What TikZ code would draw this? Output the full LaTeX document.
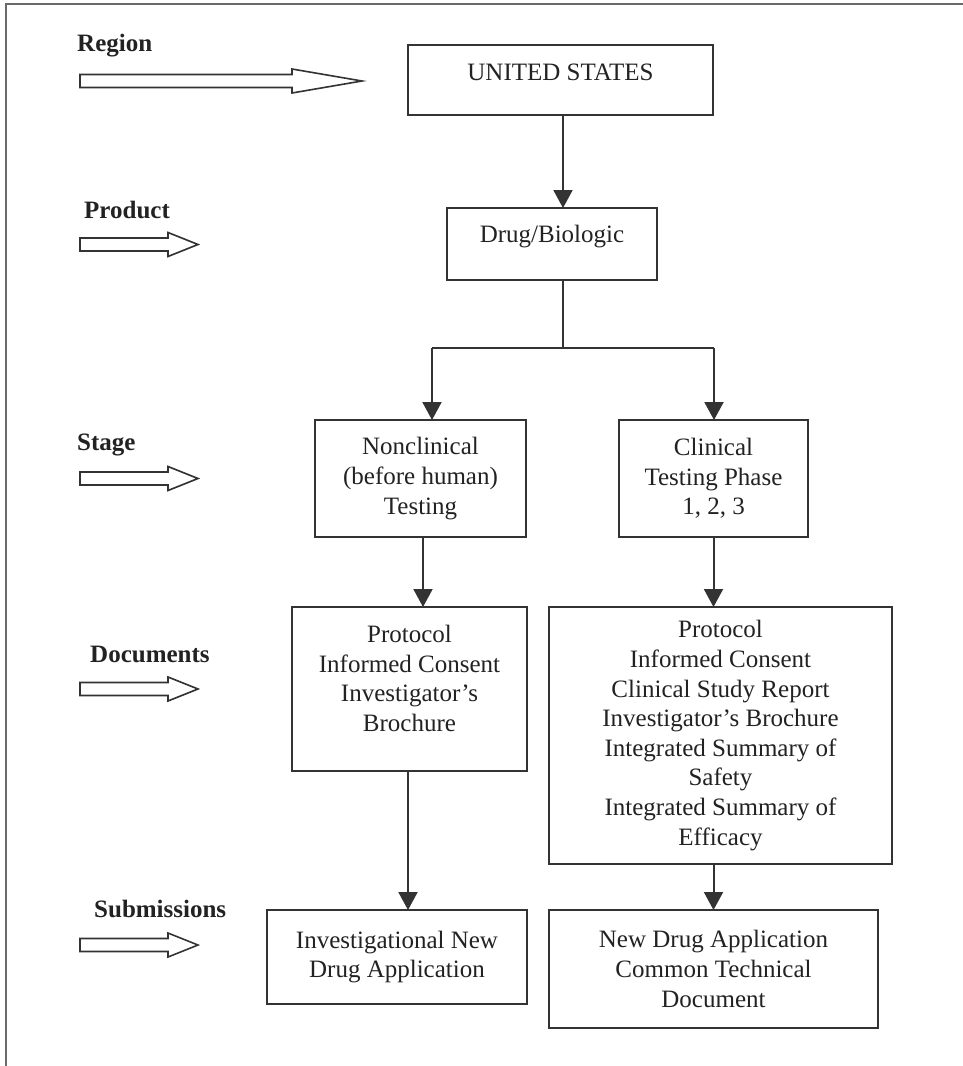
\documentclass[tikz,border=0pt]{standalone}
\usepackage{fontspec}
\setmainfont{Liberation Serif}
\usetikzlibrary{arrows.meta}
\definecolor{linegray}{HTML}{333333}
\definecolor{framegray}{HTML}{6A6A6A}
\definecolor{txt}{HTML}{222222}
\newcommand\blockarr[4]{% y, x start, head start, tip
  \draw[linegray,line width=1.6pt,fill=white,line join=miter]
    (#2,#1-6.5) -- (#3,#1-6.5) -- (#3,#1-12) -- (#4,#1) -- (#3,#1+12) -- (#3,#1+6.5) -- (#2,#1+6.5) -- cycle;}
\begin{document}
\begin{tikzpicture}[x=1pt,y=-1pt,
  boxnode/.style={draw=linegray,line width=2pt,inner sep=0pt,outer sep=0pt,align=center,
    text=txt,font=\fontsize{25}{29.6}\selectfont},
  lbl/.style={anchor=base west,inner sep=0pt,text=txt,font=\fontsize{25}{30}\selectfont\bfseries},
  conn/.style={draw=linegray,line width=2pt,-{Triangle[width=19pt,length=18pt]}},
  plain/.style={draw=linegray,line width=2pt}]
\useasboundingbox[fill=white] (0,0) rectangle (963,1066);
% frame
\draw[framegray,line width=2pt] (963,4) -- (6,4) -- (6,1066);
% left labels
\node[lbl] (lregion) at (77,51) {Region};
\node[lbl] (lproduct) at (84,218) {Product};
\node[lbl] (lstage) at (77,450) {Stage};
\node[lbl] (ldocs) at (90,662) {Documents};
\node[lbl] (lsubs) at (94,917) {Submissions};
% block arrows
\blockarr{81}{80}{292}{362}
\blockarr{244.5}{80}{168}{198}
\blockarr{478.5}{80}{168}{198}
\blockarr{689}{80}{168}{198}
\blockarr{945}{80}{168}{198}
% boxes
\node[boxnode,minimum width=305pt,minimum height=70pt] (us) at (560.5,80)
  {\raisebox{8pt}[\height][\depth]{UNITED STATES}};
\node[boxnode,minimum width=210pt,minimum height=72pt] (drug) at (552,244)
  {\raisebox{7pt}[\height][\depth]{Drug/Biologic}};
\node[boxnode,minimum width=211pt,minimum height=117pt] (nc) at (420.5,478.5)
  {Nonclinical\\(before human)\\Testing};
\node[boxnode,minimum width=189pt,minimum height=117pt] (cl) at (713.5,478.5)
  {Clinical\\Testing Phase\\1, 2, 3};
\node[boxnode,minimum width=235pt,minimum height=164pt] (ldoc) at (409.5,689)
  {\raisebox{8pt}[\height][\depth]{\begin{tabular}{@{}c@{}}Protocol\\Informed Consent\\Investigator’s\\Brochure\end{tabular}}};
\node[boxnode,minimum width=343pt,minimum height=257pt] (rdoc) at (720.5,735.5)
  {Protocol\\Informed Consent\\Clinical Study Report\\Investigator’s Brochure\\Integrated Summary of\\Safety\\Integrated Summary of\\Efficacy};
\node[boxnode,minimum width=260pt,minimum height=94pt] (ind) at (397,957)
  {Investigational New\\Drug Application};
\node[boxnode,minimum width=329pt,minimum height=118pt] (nda) at (713.5,969)
  {New Drug Application\\Common Technical\\Document};
% connectors
\coordinate (jx) at (563,0);
\coordinate (junc) at (563,348);
\coordinate (jl) at (432,348);
\coordinate (jr) at (714,348);
\draw[conn] (us.south -| jx) -- (drug.north -| jx);
\draw[plain] (drug.south -| jx) -- (junc);
\draw[plain] (jl) -- (jr);
\draw[conn] (jl) -- (nc.north -| jl);
\draw[conn] (jr) -- (cl.north -| jr);
\draw[conn] ([xshift=2.5pt]nc.south) -- ([xshift=2.5pt]nc.south |- ldoc.north);
\draw[conn] ([xshift=-1.5pt]ldoc.south) -- ([xshift=-1.5pt]ldoc.south |- ind.north);
\draw[conn] (cl.south) -- (cl.south |- rdoc.north);
\draw[conn] (nda.north |- rdoc.south) -- (nda.north);
\end{tikzpicture}
\end{document}
